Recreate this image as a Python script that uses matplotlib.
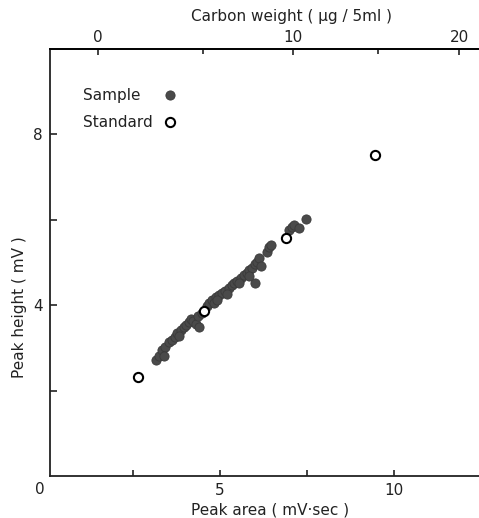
import matplotlib
matplotlib.use('Agg')
import matplotlib.pyplot as plt

# sample points (peak area mV*sec, peak height mV)
sample_x = [3.15, 3.25, 3.33, 3.42, 3.53, 3.62, 3.71, 3.76, 3.87, 3.97,
            4.02, 4.11, 4.17, 4.22, 4.31, 4.40, 4.37, 4.48, 4.63, 4.68,
            4.77, 4.88, 4.97, 5.06, 5.14, 5.26, 5.34, 5.40, 5.49, 5.59,
            5.69, 5.78, 5.83, 5.92, 6.01, 6.06, 6.12, 6.35, 6.41, 6.47,
            6.98, 7.07, 7.13, 7.27, 7.47, 6.00,
            3.39, 3.82, 4.83, 5.20, 5.55, 5.83, 6.18, 4.91]
sample_y = [2.71, 2.82, 2.94, 3.01, 3.13, 3.18, 3.25, 3.34, 3.41, 3.48,
            3.53, 3.60, 3.67, 3.62, 3.55, 3.48, 3.74, 3.81, 3.98, 4.05,
            4.12, 4.19, 4.24, 4.28, 4.33, 4.40, 4.47, 4.52, 4.56, 4.64,
            4.71, 4.75, 4.82, 4.87, 4.96, 5.01, 5.11, 5.25, 5.36, 5.41,
            5.76, 5.84, 5.88, 5.81, 6.02, 4.52,
            2.82, 3.27, 4.05, 4.26, 4.52, 4.68, 4.92, 4.12]

# standards
std_x = [2.64, 4.54, 6.90, 9.45]
std_y = [2.33, 3.87, 5.58, 7.51]

# carbon weight scale (ug/5ml) on top, placed at peak-area positions
carbon_major = ['0', '10', '20']
carbon_major_pos = [1.49, 7.09, 11.87]
carbon_minor_pos = [4.51, 9.53]

fig = plt.figure(figsize=(4.79, 5.18), dpi=100)
ax = fig.add_axes([50/479, 42/518, 429/479, 427/518])

ink = '#222222'
ax.scatter(sample_x, sample_y, s=44, facecolor='#4a4a4a', edgecolor='#3a3a3a',
           linewidth=0.6, zorder=3)
ax.scatter(std_x, std_y, s=44, facecolor='white', edgecolor='black',
           linewidth=1.5, zorder=4)

ax.set_xlim(0.115, 12.44)
ax.set_ylim(0, 10)

ax.spines['right'].set_visible(False)
for s in ['left', 'bottom', 'top']:
    ax.spines[s].set_linewidth(1.3)
    ax.spines[s].set_color(ink)

fs = 11
ax.set_xticks([2.5, 5, 7.5, 10])
ax.set_xticklabels(['', '5', '', '10'], fontsize=fs, color=ink)
ax.set_yticks([2, 4, 6, 8])
ax.set_yticklabels(['', '4', '', '8'], fontsize=fs, color=ink)
ax.tick_params(axis='x', direction='in', length=4, width=1.2, pad=5, colors=ink)
ax.tick_params(axis='y', direction='in', length=5, width=1.2, pad=5, colors=ink)
ax.text(-0.023, -0.031, '0', transform=ax.transAxes, fontsize=fs, color=ink,
        ha='center', va='center')

top = ax.twiny()
top.set_xlim(ax.get_xlim())
top.spines['right'].set_visible(False)
top.spines['left'].set_visible(False)
top.spines['bottom'].set_visible(False)
top.spines['top'].set_linewidth(1.3)
top.set_xticks(carbon_major_pos)
top.set_xticklabels(carbon_major, fontsize=fs, color=ink)
top.set_xticks(carbon_minor_pos, minor=True)
top.tick_params(axis='x', which='major', direction='in', length=4.5, width=1.2, pad=3, colors=ink)
top.tick_params(axis='x', which='minor', direction='in', length=3.5, width=1.2, colors=ink)

ax.set_xlabel('Peak area ( mV·sec )', fontsize=fs, color=ink, va='center')
ax.xaxis.set_label_coords(0.513, -0.08)
ax.set_ylabel('Peak height ( mV )', fontsize=fs, color=ink, va='center')
ax.yaxis.set_label_coords(-0.07, 0.396)
top.set_xlabel('Carbon weight ( μg / 5ml )', fontsize=fs, color=ink, va='center')
top.xaxis.set_label_coords(0.564, 1.077)

# legend drawn by hand
ax.text(0.077, 0.892, 'Sample', transform=ax.transAxes, fontsize=fs, color=ink,
        va='center', ha='left')
ax.text(0.077, 0.829, 'Standard', transform=ax.transAxes, fontsize=fs, color=ink,
        va='center', ha='left')
ax.scatter([0.28], [0.892], s=44, facecolor='#4a4a4a', edgecolor='#3a3a3a',
           linewidth=0.6, transform=ax.transAxes, clip_on=False)
ax.scatter([0.28], [0.829], s=44, facecolor='white', edgecolor='black',
           linewidth=1.5, transform=ax.transAxes, clip_on=False)

fig.savefig('out.png', dpi=100)
